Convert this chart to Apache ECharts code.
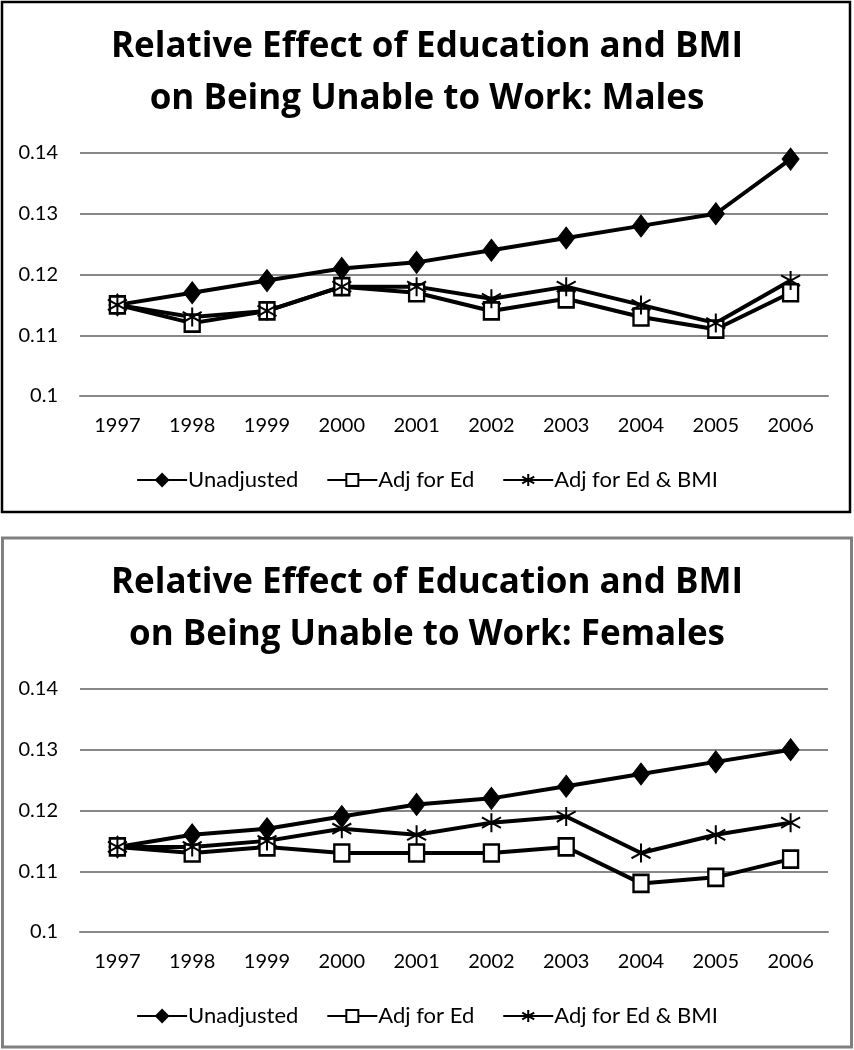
<!DOCTYPE html>
<html>
<head>
<meta charset="utf-8">
<script src="https://cdn.jsdelivr.net/npm/echarts@6/dist/echarts.min.js"></script>
<style>
html,body{margin:0;padding:0;background:#fff;}
#chart{width:854px;height:1050px;}
</style>
</head>
<body>
<div id="chart"></div>
<script>
const years = ['1997','1998','1999','2000','2001','2002','2003','2004','2005','2006'];
const seriesNames = ['Unadjusted','Adj for Ed','Adj for Ed & BMI'];
const yTicks = [0.1, 0.11, 0.12, 0.13, 0.14];

const maleUnadjusted = [0.115,0.117,0.119,0.121,0.122,0.124,0.126,0.128,0.130,0.139];
const maleAdjEd      = [0.115,0.112,0.114,0.118,0.117,0.114,0.116,0.113,0.111,0.117];
const maleAdjEdBmi   = [0.115,0.113,0.114,0.118,0.118,0.116,0.118,0.115,0.112,0.119];

const femaleUnadjusted = [0.114,0.116,0.117,0.119,0.121,0.122,0.124,0.126,0.128,0.130];
const femaleAdjEd      = [0.114,0.113,0.114,0.113,0.113,0.113,0.114,0.108,0.109,0.112];
const femaleAdjEdBmi   = [0.114,0.114,0.115,0.117,0.116,0.118,0.119,0.113,0.116,0.118];

const titleMaleLines = ['Relative Effect of Education and BMI', 'on Being Unable to Work: Males'];
const titleFemaleLines = ['Relative Effect of Education and BMI', 'on Being Unable to Work: Females'];

const FONT = 'Lato';
const TITLE_FONT = 'Open Sans';
const asterisk = 'path://M10,0 L10,20 M1.5,4.5 L18.5,15.5 M1.5,15.5 L18.5,4.5';

function makeSeries(idx, data) {
  const base = {
    type: 'line',
    xAxisIndex: idx,
    yAxisIndex: idx,
    lineStyle: { color: '#000', width: 4 },
    z: 3
  };
  return [
    Object.assign({}, base, {
      name: seriesNames[0], data: data[0],
      symbol: 'diamond', symbolSize: [17, 22],
      itemStyle: { color: '#000', borderColor: '#000', borderWidth: 1 }
    }),
    Object.assign({}, base, {
      name: seriesNames[1], data: data[1],
      symbol: 'rect', symbolSize: [15, 17],
      itemStyle: { color: '#fff', borderColor: '#000', borderWidth: 2.5 }
    }),
    Object.assign({}, base, {
      name: seriesNames[2], data: data[2],
      symbol: asterisk, symbolSize: 19,
      itemStyle: { color: '#000', borderColor: '#000', borderWidth: 2 }
    })
  ];
}

function xAxis(idx) {
  return {
    type: 'category', gridIndex: idx, data: years, boundaryGap: true,
    axisLine: { show: true, lineStyle: { color: '#888', width: 2 } },
    axisTick: { show: false },
    axisLabel: { color: '#000', fontSize: 20, fontFamily: FONT, margin: 20 }
  };
}
function yAxis(idx) {
  return {
    type: 'value', gridIndex: idx, min: yTicks[0], max: yTicks[yTicks.length-1], interval: 0.01,
    axisLine: { show: false }, axisTick: { show: false },
    splitLine: { lineStyle: { color: '#888', width: 2 } },
    axisLabel: { color: '#000', fontSize: 20, fontFamily: FONT, margin: 22,
      formatter: v => String(+v.toFixed(2)) }
  };
}
function legend(top) {
  return {
    top: top, left: 'center', data: seriesNames,
    itemWidth: 50, itemHeight: 15, itemGap: 28,
    textStyle: { color: '#000', fontSize: 22, fontFamily: FONT, padding: [0,0,0,-4] }
  };
}
function title(text, top) {
  return {
    text: text, left: 'center', top: top, padding: 0,
    textStyle: { color: '#000', fontSize: 35, fontWeight: 'bold', fontFamily: TITLE_FONT }
  };
}

const chart = echarts.init(document.getElementById('chart'));
chart.setOption({
  animation: false,
  backgroundColor: '#fff',
  title: [
    title(titleMaleLines[0], 30), title(titleMaleLines[1], 82),
    title(titleFemaleLines[0], 566), title(titleFemaleLines[1], 618)
  ],
  legend: [legend(464), legend(1000)],
  grid: [
    { left: 80, right: 26, top: 153, height: 243 },
    { left: 80, right: 26, top: 689, height: 243 }
  ],
  xAxis: [xAxis(0), xAxis(1)],
  yAxis: [yAxis(0), yAxis(1)],
  series: makeSeries(0, [maleUnadjusted, maleAdjEd, maleAdjEdBmi])
    .concat(makeSeries(1, [femaleUnadjusted, femaleAdjEd, femaleAdjEdBmi])),
  graphic: [
    { type: 'rect', shape: { x: 2, y: 2, width: 848, height: 510 },
      style: { fill: 'none', stroke: '#000', lineWidth: 2.5 }, silent: true },
    { type: 'rect', shape: { x: 2.5, y: 538, width: 849, height: 509 },
      style: { fill: 'none', stroke: '#808080', lineWidth: 3 }, silent: true }
  ]
});
</script>
</body>
</html>
